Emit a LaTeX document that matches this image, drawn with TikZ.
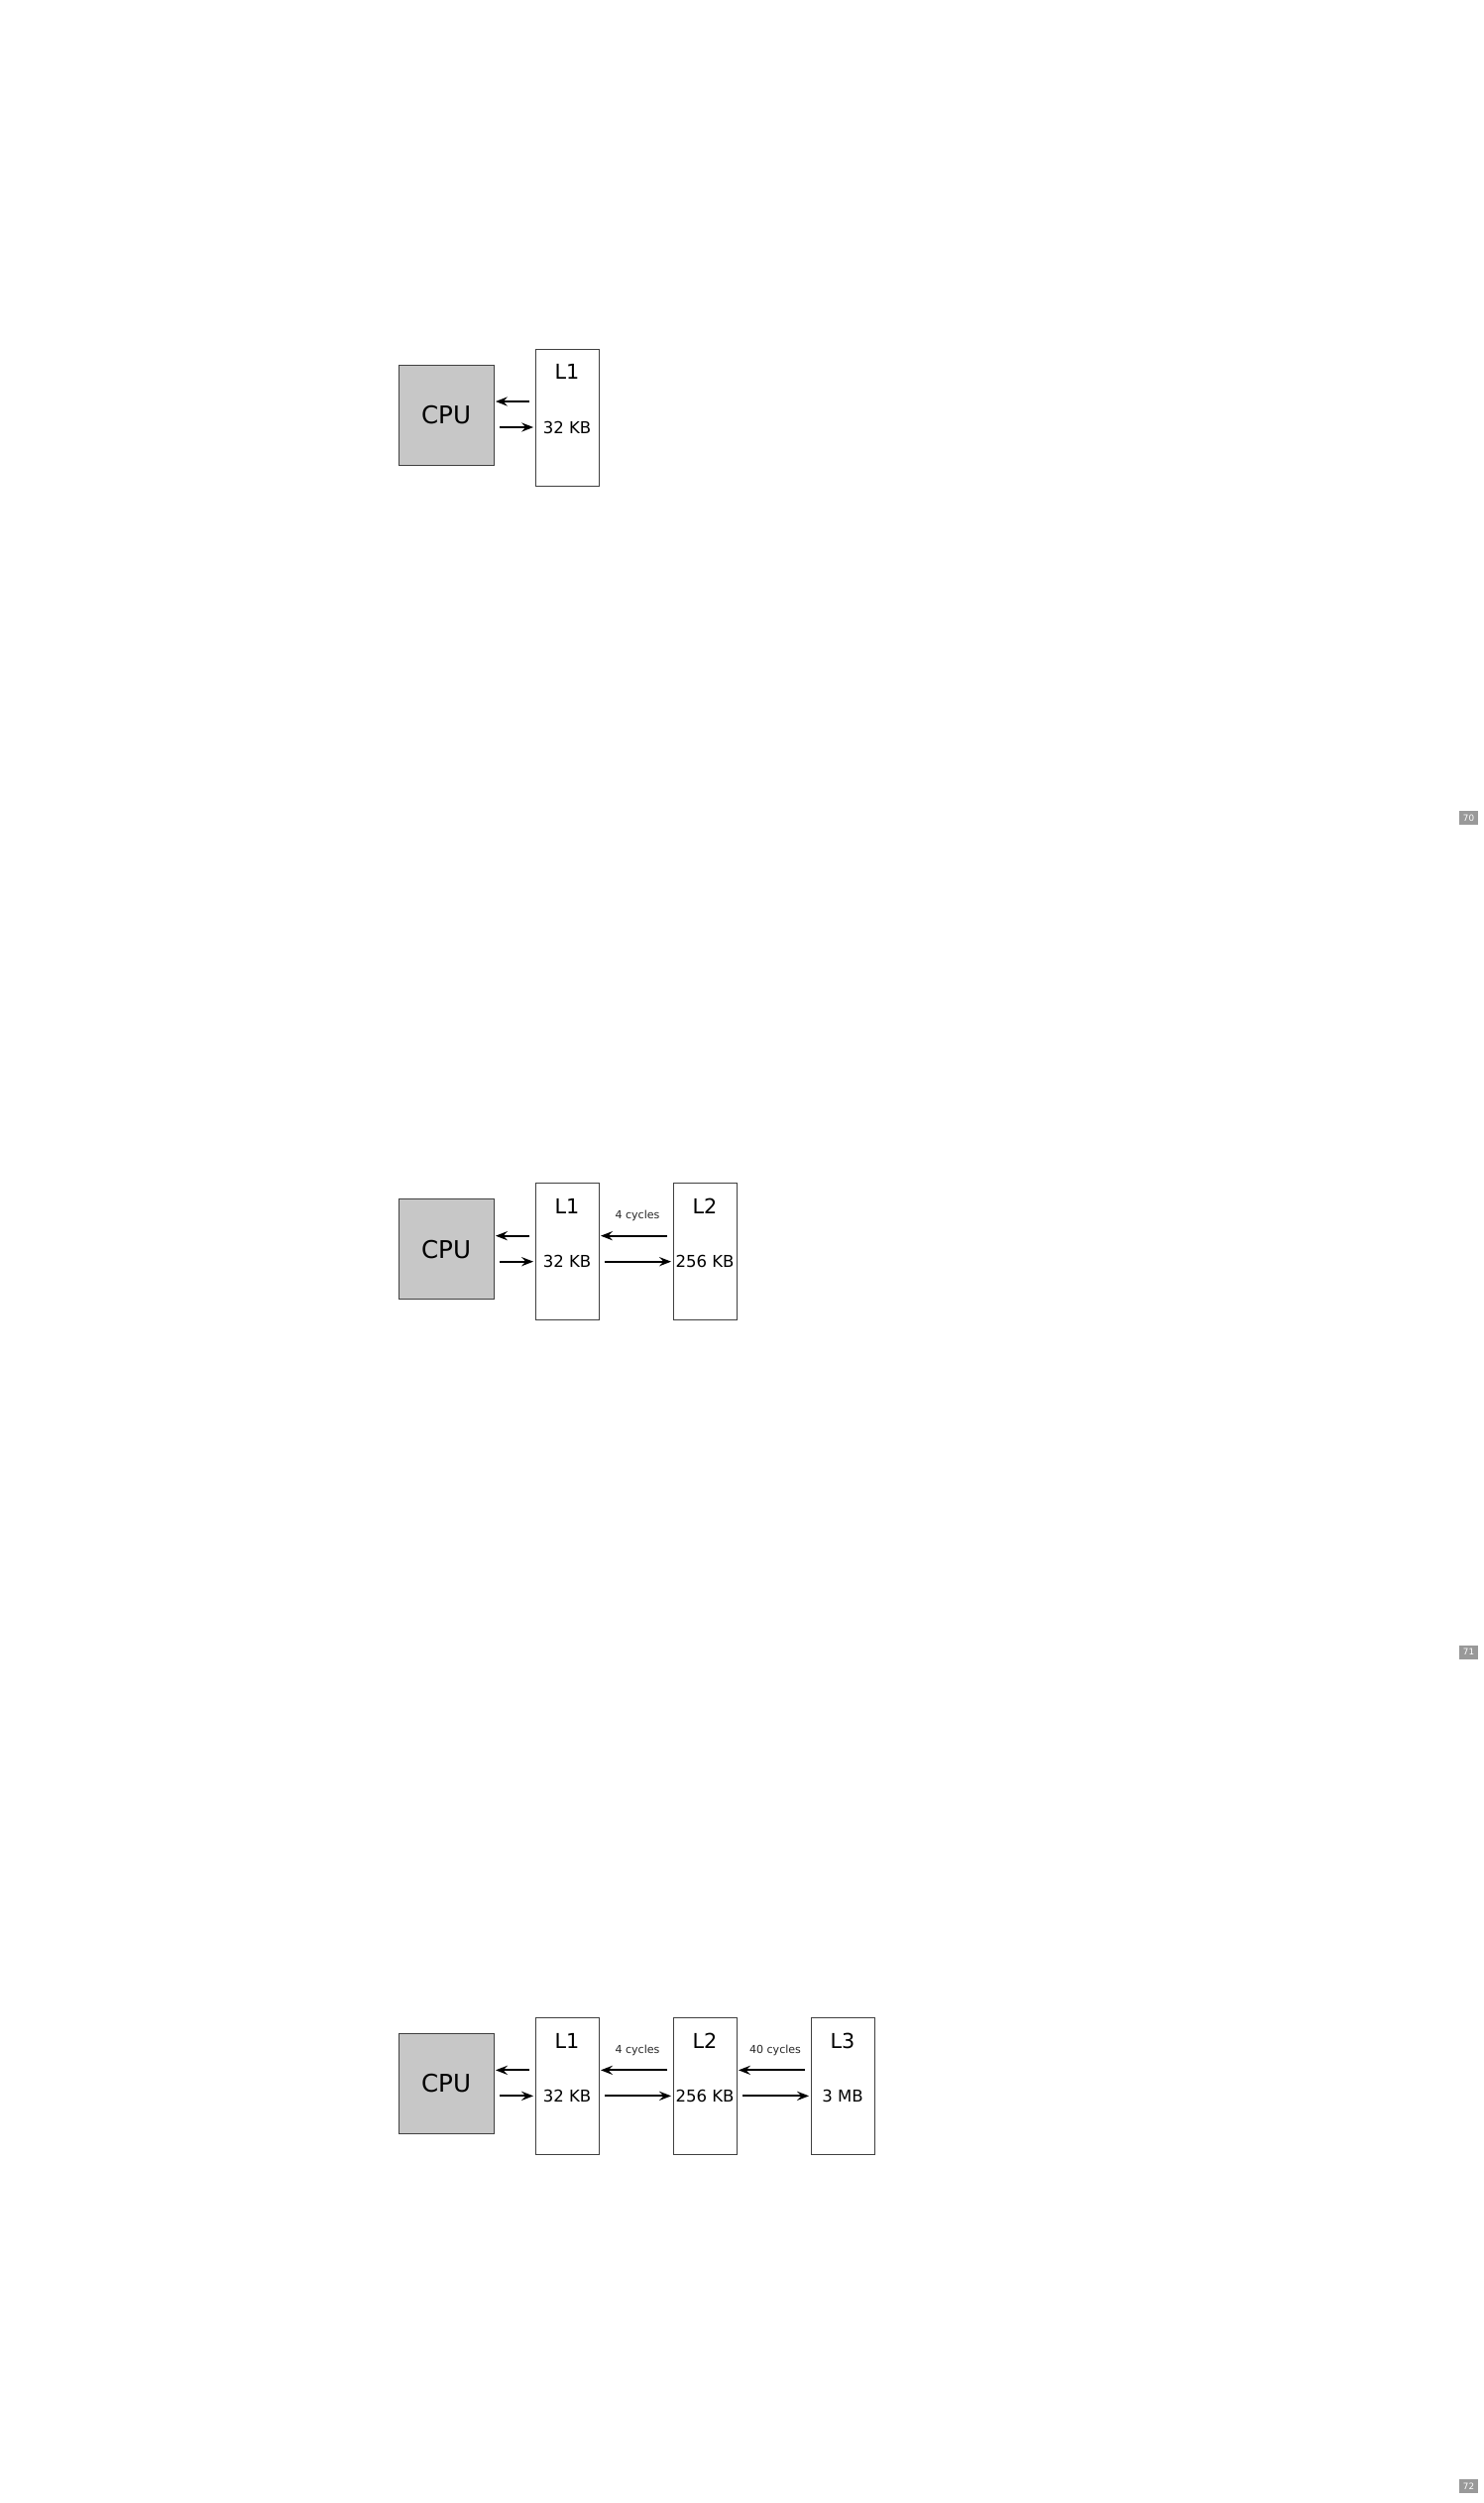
\documentclass[tikz,border=0pt]{standalone}
\usepackage{fontspec}
\setmainfont{DejaVu Sans}
\usetikzlibrary{calc,arrows.meta}

\newcommand\cachesize[1]{\ifcase#1\or 32 KB\or 256 KB\or 3 MB\fi}
\newcommand\cachelat[1]{\ifcase#1\or\or 4 cycles\or 40 cycles\fi}

\begin{document}
\begin{tikzpicture}[x=0.02cm,y=0.02cm,
    cpubox/.style={draw=black!75,line width=0.5pt,fill=black!22,
      minimum width=1.92cm,minimum height=2.02cm,inner sep=0pt,
      font=\fontsize{14pt}{16pt}\selectfont},
    cachebox/.style={draw=black!75,line width=0.5pt,fill=white,
      minimum width=1.28cm,minimum height=2.76cm,inner sep=0pt},
    cachename/.style={anchor=base,inner sep=0pt,font=\fontsize{11.8pt}{14pt}\selectfont},
    cachesz/.style={anchor=base,inner sep=0pt,font=\fontsize{9.4pt}{11pt}\selectfont},
    latency/.style={anchor=base,inner sep=0pt,text=black!85,font=\fontsize{6.3pt}{7pt}\selectfont},
    pagenum/.style={fill=black!40,text=white,minimum width=0.38cm,minimum height=0.28cm,
      inner sep=0pt,font=\fontsize{5pt}{6pt}\selectfont},
    flow/.style={line width=1.1pt,-{Stealth[length=6.8pt,width=5.2pt,inset=2.4pt]}}]
  \useasboundingbox (0,0) rectangle (1497,-2525);

  \foreach \p [count=\k from 0] in {70,71,72} {
    \begin{scope}[shift={(0,-841.67*\k)}]
      \node[cpubox] (cpu\p) at (450,-418.5) {CPU};
      \node[pagenum] (num\p) at (1481.5,-825) {\p};

      \pgfmathtruncatemacro\n{\k+1}
      \foreach \i in {1,...,\n} {
        \ifnum\i=1
          \edef\prev{cpu\p}
        \else
          \pgfmathtruncatemacro\j{\i-1}
          \edef\prev{l\p-\j}
        \fi
        \node[cachebox] (l\p-\i) at ({572+139*(\i-1)},-421) {};
        \node[cachename] (name\p-\i) at ($(l\p-\i.center)+(0,38.3)$) {L\i};
        \node[cachesz] (size\p-\i) at ($(l\p-\i.center)+(0,-16)$) {\cachesize{\i}};

        % to the left: read back, send on
        \draw[flow] ($(l\p-\i.west)+(-5.5,16)$) -- ($(l\p-\i.west -| \prev.east)+(1.5,16)$);
        \draw[flow] ($(l\p-\i.west -| \prev.east)+(5.5,-10)$) -- ($(l\p-\i.west)+(-1.5,-10)$);

        \ifnum\i>1
          \node[latency] (lat\p-\i) at ($(\prev.east)!0.5!(l\p-\i.west)+(1.5,33)$) {\cachelat{\i}};
        \fi
      }
    \end{scope}
  }
\end{tikzpicture}
\end{document}
